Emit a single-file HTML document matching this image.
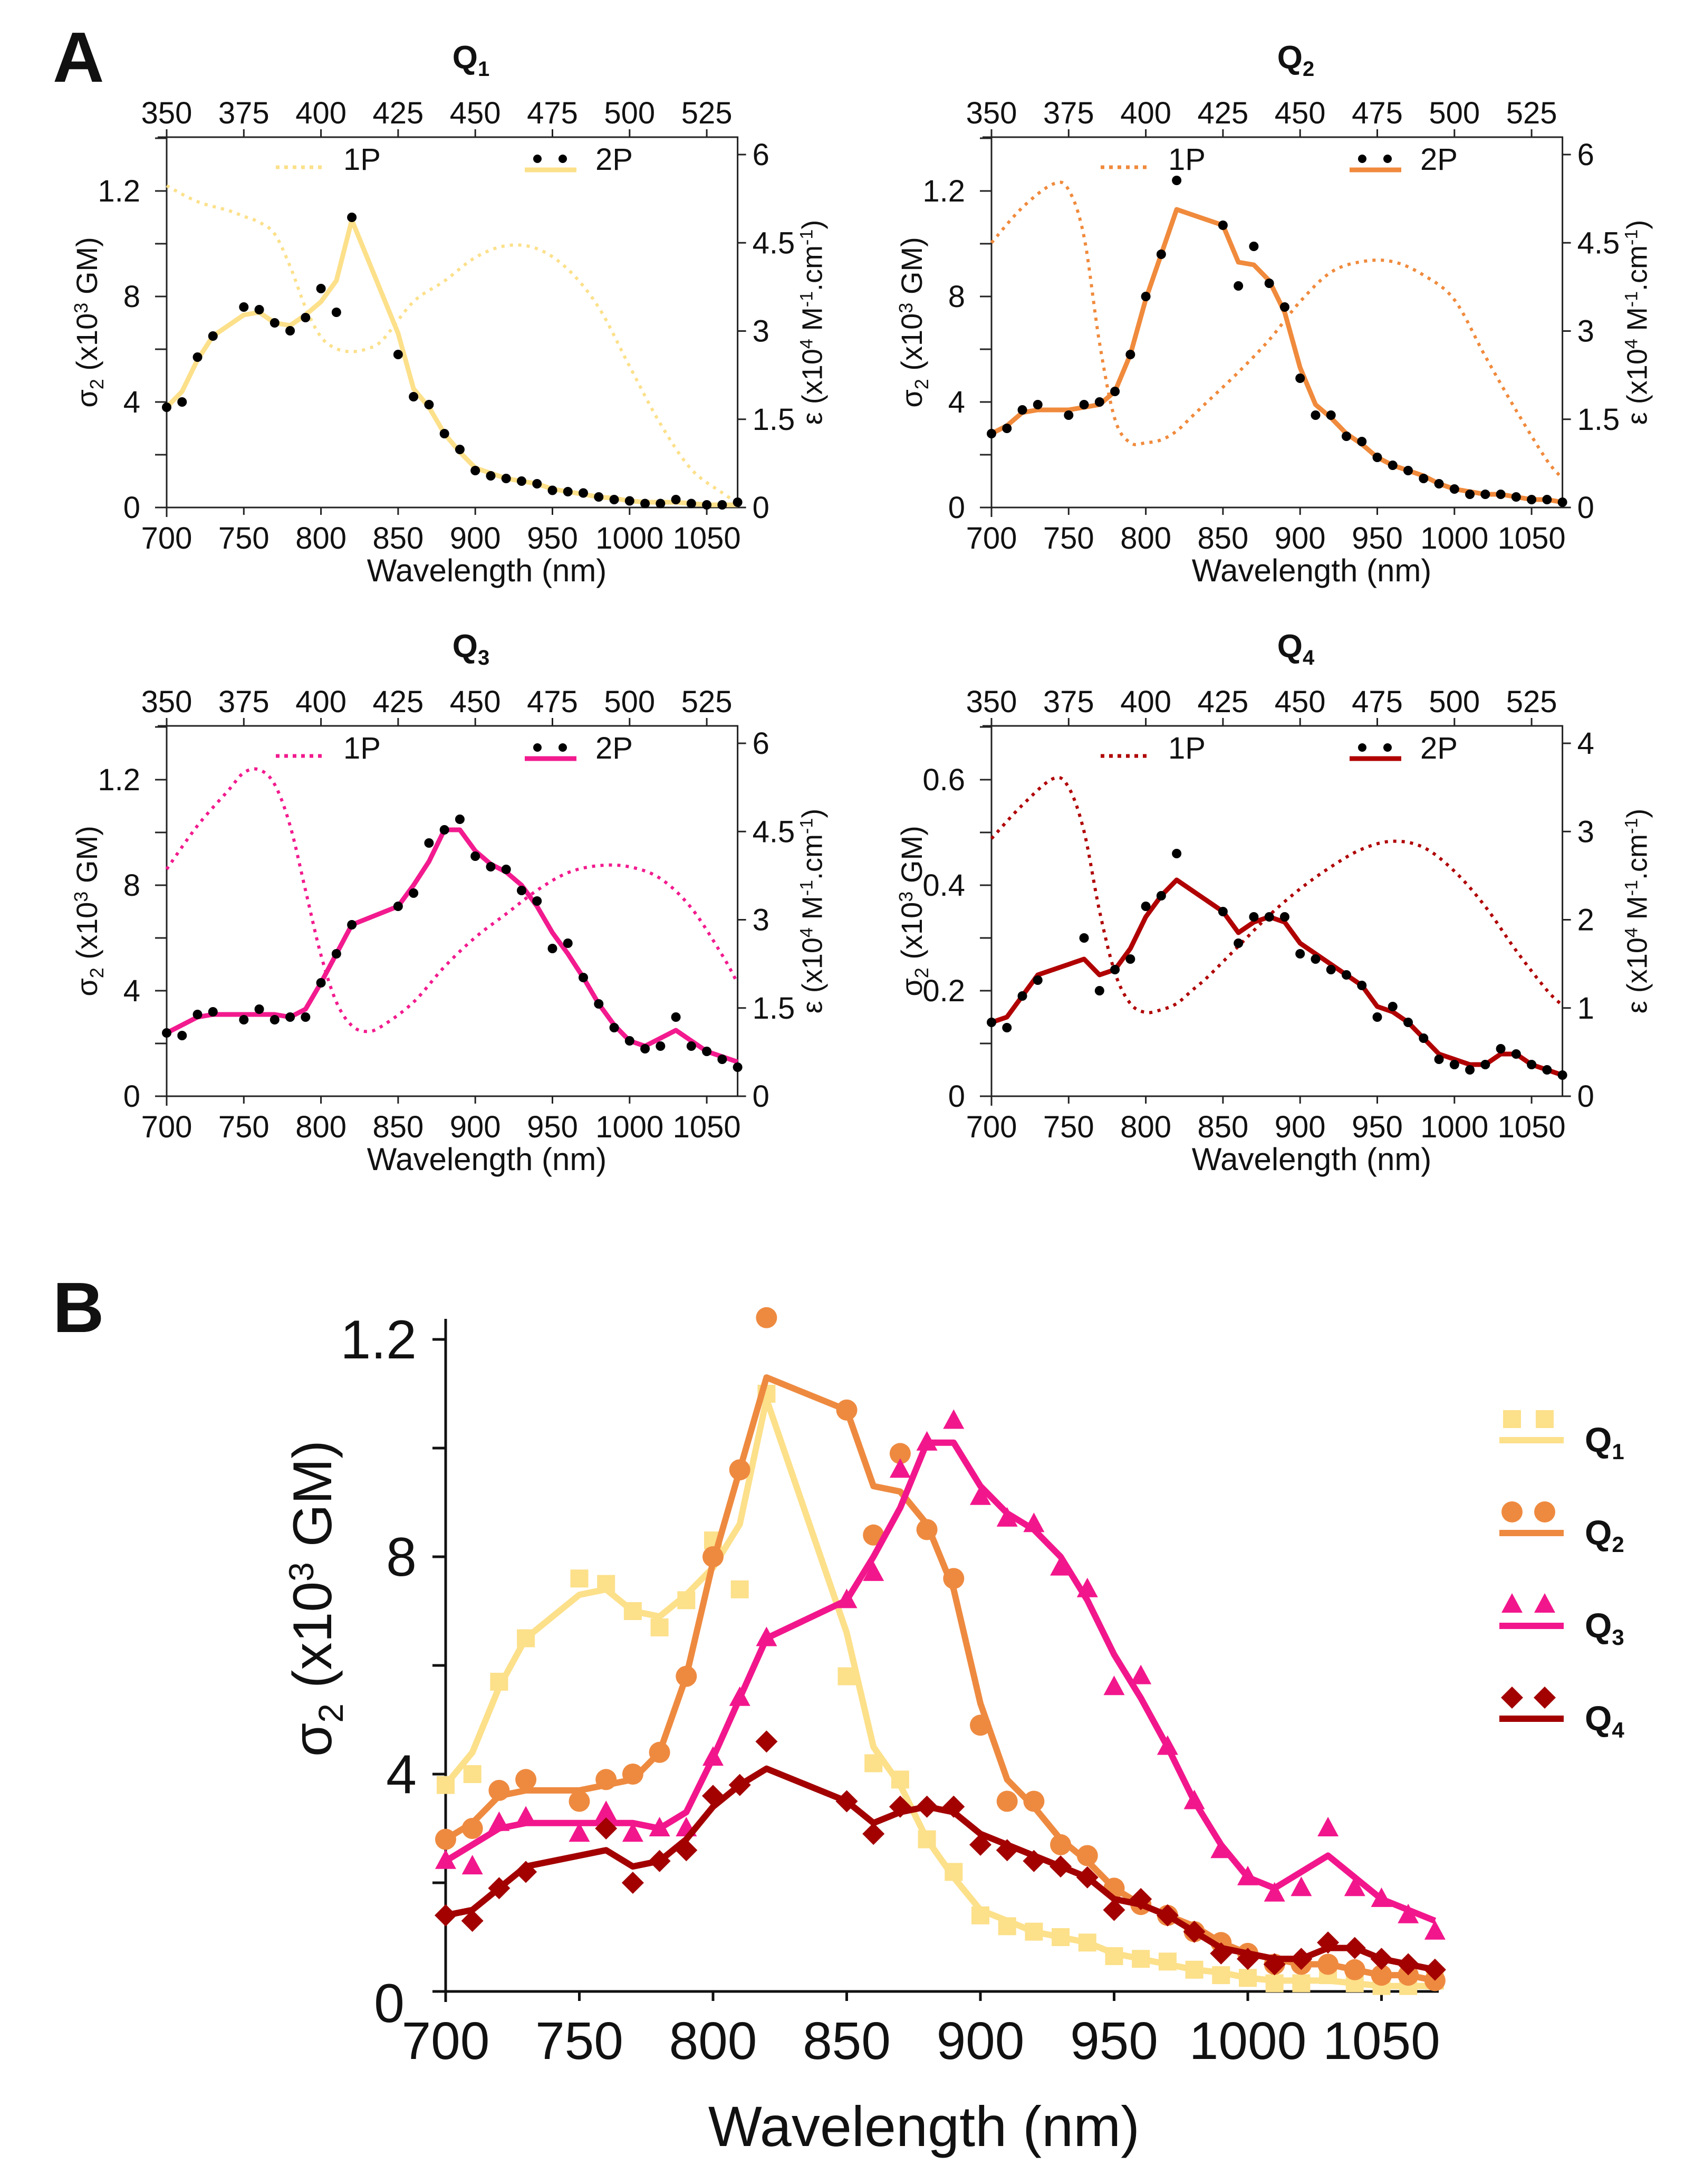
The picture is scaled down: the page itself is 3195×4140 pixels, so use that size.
<!DOCTYPE html>
<html><head><meta charset="utf-8"><style>
html,body{margin:0;padding:0;background:#fff}
svg{display:block}
text{font-family:"Liberation Sans",sans-serif;fill:#111}
</style></head><body>
<svg id="fig" xmlns="http://www.w3.org/2000/svg" width="3195" height="4140" viewBox="0 0 3195 4140">
<rect width="3195" height="4140" fill="#fff"/>
<text x="100" y="155" font-size="135" font-weight="bold">A</text>
<text x="100" y="2525" font-size="135" font-weight="bold">B</text>
</svg>
<script>
const W2P = [700,710,720,730,750,760,770,780,790,800,810,820,850,860,870,880,890,900,910,920,930,940,950,960,970,980,990,1000,1010,1020,1030,1040,1050,1060,1070];
const W2P4 = [700,710,720,730,760,770,780,790,800,810,820,850,860,870,880,890,900,910,920,930,940,950,960,970,980,990,1000,1010,1020,1030,1040,1050,1060,1070];
const W1P = [350,360,370,375,380,385,390,395,400,405,410,415,420,430,440,450,460,470,480,490,500,510,520,530,535];

const q1Dots = [0.38,0.40,0.57,0.65,0.76,0.75,0.70,0.67,0.72,0.83,0.74,1.10,0.58,0.42,0.39,0.28,0.22,0.14,0.12,0.11,0.10,0.09,0.065,0.06,0.055,0.04,0.03,0.025,0.015,0.015,0.03,0.015,0.01,0.01,0.02];
const q1Line = [0.38,0.44,0.56,0.65,0.73,0.74,0.70,0.69,0.73,0.78,0.86,1.09,0.66,0.45,0.38,0.28,0.21,0.15,0.13,0.11,0.10,0.09,0.07,0.06,0.05,0.04,0.035,0.025,0.02,0.02,0.02,0.015,0.01,0.01,0.01];
const q2Dots = [0.28,0.30,0.37,0.39,0.35,0.39,0.40,0.44,0.58,0.80,0.96,1.24,1.07,0.84,0.99,0.85,0.76,0.49,0.35,0.35,0.27,0.25,0.19,0.16,0.14,0.11,0.09,0.07,0.05,0.05,0.05,0.04,0.03,0.03,0.02];
const q2Line = [0.28,0.31,0.36,0.37,0.37,0.38,0.39,0.44,0.58,0.79,0.96,1.13,1.07,0.93,0.92,0.86,0.74,0.53,0.39,0.34,0.28,0.24,0.19,0.16,0.14,0.12,0.09,0.07,0.06,0.05,0.05,0.04,0.03,0.03,0.02];
const q3Dots = [0.24,0.23,0.31,0.32,0.29,0.33,0.29,0.30,0.30,0.43,0.54,0.65,0.72,0.77,0.96,1.01,1.05,0.91,0.87,0.86,0.78,0.74,0.56,0.58,0.45,0.35,0.26,0.21,0.18,0.19,0.30,0.19,0.17,0.14,0.11];
const q3Line = [0.24,0.27,0.30,0.31,0.31,0.31,0.31,0.30,0.33,0.43,0.54,0.65,0.72,0.80,0.89,1.01,1.01,0.93,0.88,0.85,0.80,0.72,0.62,0.54,0.45,0.35,0.27,0.21,0.19,0.22,0.25,0.21,0.17,0.15,0.13];
const q4Dots = [0.14,0.13,0.19,0.22,0.30,0.20,0.24,0.26,0.36,0.38,0.46,0.35,0.29,0.34,0.34,0.34,0.27,0.26,0.24,0.23,0.21,0.15,0.17,0.14,0.11,0.07,0.06,0.05,0.06,0.09,0.08,0.06,0.05,0.04];
const q4Line = [0.14,0.15,0.19,0.23,0.26,0.23,0.24,0.28,0.34,0.38,0.41,0.35,0.31,0.33,0.34,0.33,0.29,0.27,0.25,0.23,0.21,0.17,0.16,0.14,0.11,0.08,0.07,0.06,0.06,0.08,0.08,0.06,0.05,0.04];

const q1Abs = [5.47,5.2,5.05,4.95,4.85,4.65,4.1,3.4,2.9,2.7,2.65,2.7,2.85,3.5,3.85,4.25,4.45,4.4,4.05,3.4,2.4,1.42,0.65,0.25,0.08];
const q2Abs = [4.5,5.1,5.5,5.4,4.6,2.8,1.5,1.1,1.1,1.15,1.3,1.55,1.8,2.3,2.85,3.5,4.0,4.18,4.18,3.95,3.53,2.57,1.65,0.8,0.5];
const q3Abs = [3.86,4.6,5.2,5.5,5.55,5.3,4.6,3.5,2.4,1.6,1.2,1.1,1.2,1.6,2.2,2.7,3.1,3.5,3.8,3.92,3.9,3.7,3.2,2.4,1.92];
const q4Abs = [2.92,3.3,3.6,3.5,3.0,2.1,1.4,1.05,0.95,0.98,1.05,1.2,1.35,1.7,2.05,2.35,2.6,2.8,2.89,2.82,2.55,2.15,1.65,1.2,1.03];

const xTicks = [700,750,800,850,900,950,1000,1050];
const topTicks = [350,375,400,425,450,475,500,525];
const leftLabels = ["1.2","8","4","0"];
const leftLabelVals = [1.2,0.8,0.4,0];
const q4LeftLabels = ["0.6","0.4","0.2","0"];
const q4LeftVals = [0.6,0.4,0.2,0];
const rightLabels = ["0","1.5","3","4.5","6"];
const rightVals = [0,1.5,3,4.5,6];
const q4RightLabels = ["0","1","2","3","4"];
const q4RightVals = [0,1,2,3,4];

const NS = "http://www.w3.org/2000/svg";
const fig = document.getElementById('fig');
function mk(tag, attrs, parent){
  const e = document.createElementNS(NS, tag);
  for (const k in attrs) e.setAttribute(k, attrs[k]);
  (parent||fig).appendChild(e);
  return e;
}
function smooth(pts){
  let d = "M"+pts[0][0]+","+pts[0][1];
  for (let i=0;i<pts.length-1;i++){
    const p0=pts[Math.max(0,i-1)],p1=pts[i],p2=pts[i+1],p3=pts[Math.min(pts.length-1,i+2)];
    const c1=[p1[0]+(p2[0]-p0[0])/6,p1[1]+(p2[1]-p0[1])/6];
    const c2=[p2[0]-(p3[0]-p1[0])/6,p2[1]-(p3[1]-p1[1])/6];
    d+=" C"+c1[0]+","+c1[1]+" "+c2[0]+","+c2[1]+" "+p2[0]+","+p2[1];
  }
  return d;
}

function panel(cfg){
  const L=316+cfg.dx, B=962+cfg.dy, T=260+cfg.dy, PX=2.926;
  const R = L + 370*PX;
  const g = mk('g',{});
  
  
  const xs = w => L + (w-700)*PX;
  const xs1 = w => L + (w-350)*2*PX;
  const ys = v => B - v*cfg.yScale;
  const ye = v => B - v*cfg.eScale;
  const t = mk('text',{x:L+577,y:T-130,'font-size':62,'font-weight':'bold','text-anchor':'middle'},g);
  t.textContent = 'Q';
  const ts = mk('tspan',{'font-size':40,dy:14},t); ts.textContent = cfg.sub;
  
  
  const ax = mk('path',{d:`M${L-17},${T}H${R}V${B}M${L},${T}V${B+18}M${L-22},${B}H${R+15}`,stroke:'#222','stroke-width':3,fill:'none'},g);
  
  
  xTicks.forEach(w=>{
    mk('line',{x1:xs(w),x2:xs(w),y1:B,y2:B+14,stroke:'#222','stroke-width':3},g);
    const tl = mk('text',{x:xs(w),y:B+78,'font-size':58,'text-anchor':'middle'},g);
    tl.textContent = w;
    
    
  });
  topTicks.forEach(w=>{
    mk('line',{x1:xs1(w),x2:xs1(w),y1:T,y2:T-15,stroke:'#222','stroke-width':3},g);
    const tl = mk('text',{x:xs1(w),y:T-26,'font-size':58,'text-anchor':'middle'},g);
    tl.textContent = w;
    
    
  });
  for (let v=0; v<=cfg.yMax+1e-9; v+=cfg.yStep){
    mk('line',{x1:L-22,x2:L,y1:ys(v),y2:ys(v),stroke:'#222','stroke-width':3},g);
  }
  cfg.lLab.forEach((s,i)=>{
    const tl = mk('text',{x:L-50,y:ys(cfg.lVal[i])+20,'font-size':58,'text-anchor':'end'},g);
    tl.textContent = s;
    
    
  });
  cfg.rLab.forEach((s,i)=>{
    mk('line',{x1:R,x2:R+16,y1:ye(cfg.rVal[i]),y2:ye(cfg.rVal[i]),stroke:'#222','stroke-width':3},g);
    const tl = mk('text',{x:R+28,y:ye(cfg.rVal[i])+20,'font-size':58},g);
    tl.textContent = s;
    
    
  });
  const xt = mk('text',{x:L+607,y:B+140,'font-size':60,'text-anchor':'middle'},g);
  xt.textContent = 'Wavelength (nm)';
  
  
  const yt = mk('text',{transform:`translate(${L-132},${(T+B)/2}) rotate(-90)`,'font-size':56,'text-anchor':'middle'},g);
  yt.innerHTML = 'σ<tspan font-size="36" dy="12">2</tspan><tspan dy="-12"> (x10</tspan><tspan font-size="36" dy="-18">3</tspan><tspan dy="18"> GM)</tspan>';
  
  
  const rt = mk('text',{transform:`translate(${R+160},${(T+B)/2}) rotate(-90)`,'font-size':54,'text-anchor':'middle'},g);
  rt.innerHTML = 'ε (x10<tspan font-size="34" dy="-18">4</tspan><tspan dy="18"> M</tspan><tspan font-size="34" dy="-18">-1</tspan><tspan dy="18">.cm</tspan><tspan font-size="34" dy="-18">-1</tspan><tspan dy="18">)</tspan>';
  
  
  const p1 = mk('path',{d:smooth(W1P.map((w,i)=>[xs1(w),ye(cfg.abs[i])])),stroke:cfg.color,'stroke-width':6,'stroke-dasharray':'6 10',fill:'none'},g);
  
  
  const p2 = mk('polyline',{points:cfg.wl.map((w,i)=>xs(w)+','+ys(cfg.line[i])).join(' '),stroke:cfg.color,'stroke-width':9,fill:'none','stroke-linejoin':'round'},g);
  
  
  cfg.wl.forEach((w,i)=>{
    const c = mk('circle',{cx:xs(w),cy:ys(cfg.dots[i]),r:9,fill:'#000'},g);
    
    
  });
  mk('line',{x1:L+207,x2:L+294,y1:T+57,y2:T+57,stroke:cfg.color,'stroke-width':7,'stroke-dasharray':'7 9'},g);
  const l1 = mk('text',{x:L+335,y:T+62,'font-size':58},g); l1.textContent='1P';
  
  
  mk('circle',{cx:L+703,cy:T+41,r:8,fill:'#000'},g);
  mk('circle',{cx:L+751,cy:T+41,r:8,fill:'#000'},g);
  mk('line',{x1:L+679,x2:L+777,y1:T+62,y2:T+62,stroke:cfg.color,'stroke-width':9},g);
  const l2 = mk('text',{x:L+813,y:T+62,'font-size':58},g); l2.textContent='2P';
  
  
}

const base = {yScale:500, eScale:669/6, yMax:1.4, yStep:0.2, lLab:leftLabels, lVal:leftLabelVals, rLab:rightLabels, rVal:rightVals};
panel(Object.assign({},base,{id:'q1',sub:'1',dx:0,dy:0,color:'#FCE08A',wl:W2P,dots:q1Dots,line:q1Line,abs:q1Abs}));
panel(Object.assign({},base,{id:'q2',sub:'2',dx:1564,dy:0,color:'#F08A3C',wl:W2P,dots:q2Dots,line:q2Line,abs:q2Abs}));
panel(Object.assign({},base,{id:'q3',sub:'3',dx:0,dy:1116,color:'#F21A8E',wl:W2P,dots:q3Dots,line:q3Line,abs:q3Abs}));
panel(Object.assign({},base,{id:'q4',sub:'4',dx:1564,dy:1116,color:'#B00000',yScale:1000,eScale:669/4,yMax:0.7,yStep:0.1,lLab:q4LeftLabels,lVal:q4LeftVals,rLab:q4RightLabels,rVal:q4RightVals,wl:W2P4,dots:q4Dots,line:q4Line,abs:q4Abs}));

(function(){
  const L=845, B=3775, PX=5.07, YS=1030;
  const xs = w => L + (w-700)*PX;
  const ys = v => B - v*YS;
  const g = mk('g',{});
  
  
  const ax = mk('path',{d:`M${L},2500V${B+20}M${L-25},${B}H2728`,stroke:'#111','stroke-width':5,fill:'none'},g);
  
  
  for (let v=0; v<=1.21; v+=0.2) mk('line',{x1:L-25,x2:L,y1:ys(v),y2:ys(v),stroke:'#111','stroke-width':5},g);
  leftLabels.forEach((s,i)=>{
    const v=leftLabelVals[i];
    const tl = mk('text',{x:v===0?767:790,y:ys(v)+(v===0?58:36),'font-size':104,'text-anchor':'end'},g);
    tl.textContent=s;
    
    
  });
  xTicks.forEach(w=>{
    mk('line',{x1:xs(w),x2:xs(w),y1:B,y2:B+18,stroke:'#111','stroke-width':5},g);
    const tl = mk('text',{x:xs(w),y:B+128,'font-size':100,'text-anchor':'middle'},g);
    tl.textContent=w;
    
    
  });
  const xt = mk('text',{x:1752,y:4068,'font-size':108,'text-anchor':'middle'},g);
  xt.textContent='Wavelength (nm)';
  
  
  const yt = mk('text',{transform:'translate(628,3030) rotate(-90)','font-size':104,'text-anchor':'middle'},g);
  yt.innerHTML='σ<tspan font-size="66" dy="22">2</tspan><tspan dy="-22"> (x10</tspan><tspan font-size="66" dy="-34">3</tspan><tspan dy="34"> GM)</tspan>';
  
  

  function marker(kind,x,y,col,parent){
    if(kind==='sq') return mk('rect',{x:x-17,y:y-17,width:34,height:34,fill:col},parent);
    if(kind==='ci') return mk('circle',{cx:x,cy:y,r:20,fill:col},parent);
    if(kind==='tr') return mk('path',{d:`M${x},${y-22}L${x+20},${y+15}L${x-20},${y+15}Z`,fill:col},parent);
    return mk('path',{d:`M${x},${y-21}L${x+21},${y}L${x},${y+21}L${x-21},${y}Z`,fill:col},parent);
  }
  const series=[
    {id:'q1',sub:'1',kind:'sq',col:'#FCE08A',wl:W2P,dots:q1Dots,line:q1Line},
    {id:'q2',sub:'2',kind:'ci',col:'#EE8A40',wl:W2P,dots:q2Dots,line:q2Line},
    {id:'q3',sub:'3',kind:'tr',col:'#F2168C',wl:W2P,dots:q3Dots,line:q3Line},
    {id:'q4',sub:'4',kind:'di',col:'#A30000',wl:W2P4,dots:q4Dots,line:q4Line}
  ];
  series.forEach((s,k)=>{
    const sg = mk('g',{},g);
    
    
    const pl = mk('polyline',{points:s.wl.map((w,i)=>xs(w)+','+ys(s.line[i])).join(' '),stroke:s.col,'stroke-width':12,fill:'none','stroke-linejoin':'round'},sg);
    
    
    s.wl.forEach((w,i)=>{
      const m = marker(s.kind,xs(w),ys(s.dots[i]),s.col,sg);
      
      
    });
    const ly = 2690 + k*176;
    const lg = mk('g',{},g);
    
    
    marker(s.kind,2867,ly,s.col,lg);
    marker(s.kind,2929,ly,s.col,lg);
    mk('line',{x1:2843,x2:2965,y1:ly+40,y2:ly+40,stroke:s.col,'stroke-width':12},lg);
    const t = mk('text',{x:3005,y:ly+62,'font-size':66,'font-weight':'bold'},lg);
    t.innerHTML='Q<tspan font-size="42" dy="14">'+s.sub+'</tspan>';
  });
})();
</script>
</body></html>
